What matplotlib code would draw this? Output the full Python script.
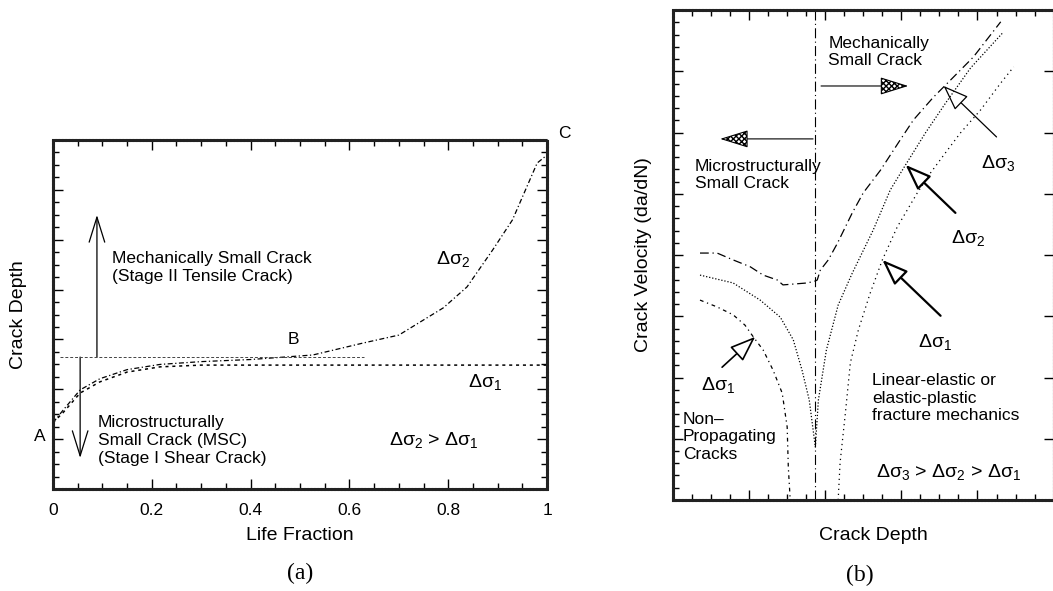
import numpy as np
import matplotlib
matplotlib.use("Agg")
import matplotlib.pyplot as plt
from matplotlib.patches import FancyArrowPatch
from matplotlib.ticker import MultipleLocator, FixedLocator, NullFormatter

plt.rcParams['font.family'] = ['Liberation Sans', 'DejaVu Sans']
plt.rcParams['mathtext.fontset'] = 'custom'
plt.rcParams['mathtext.rm'] = 'Liberation Sans'
plt.rcParams['mathtext.default'] = 'regular'

# ---- panel (a): crack depth vs life fraction (schematic, axes units 0..1)
life1 = [0, 0.02, 0.055, 0.095, 0.15, 0.217, 0.3, 0.5, 0.75, 1.0]
depth1 = [0.19, 0.218, 0.275, 0.307, 0.335, 0.35, 0.355, 0.355, 0.355, 0.355]

life2 = [0, 0.02, 0.055, 0.095, 0.15, 0.217, 0.3, 0.4, 0.526, 0.627, 0.70,
         0.79, 0.838, 0.89, 0.93, 0.98, 1.0]
depth2 = [0.19, 0.225, 0.284, 0.316, 0.342, 0.357, 0.365, 0.371, 0.384, 0.418,
          0.441, 0.519, 0.579, 0.685, 0.771, 0.934, 0.957]

transition_depth = 0.378
transition_span = [0.015, 0.63]

# ---- panel (b): crack velocity vs crack depth (schematic, axes units 0..1)
ds3_x = [0.071, 0.116, 0.158, 0.203, 0.237, 0.274, 0.289, 0.353, 0.374,
         0.379, 0.387, 0.408, 0.432, 0.471, 0.500, 0.545, 0.597, 0.632,
         0.684, 0.729, 0.789, 0.861]
ds3_y = [0.504, 0.504, 0.490, 0.476, 0.459, 0.449, 0.439, 0.443, 0.447,
         0.449, 0.469, 0.490, 0.524, 0.586, 0.627, 0.673, 0.735, 0.776,
         0.822, 0.857, 0.904, 0.976]

ds2_x = [0.071, 0.158, 0.229, 0.282, 0.316, 0.339, 0.358, 0.374,
         0.382, 0.403, 0.434, 0.471, 0.526, 0.571, 0.611, 0.663, 0.716,
         0.782, 0.868]
ds2_y = [0.459, 0.443, 0.408, 0.373, 0.327, 0.265, 0.204, 0.108,
         0.204, 0.306, 0.398, 0.463, 0.551, 0.633, 0.684, 0.749, 0.810,
         0.882, 0.955]

ds1_left_x = [0.071, 0.116, 0.158, 0.189, 0.211, 0.237, 0.263, 0.287,
              0.300, 0.303, 0.308]
ds1_left_y = [0.408, 0.394, 0.378, 0.357, 0.333, 0.306, 0.265, 0.218,
              0.149, 0.067, 0.0]

ds1_right_x = [0.434, 0.439, 0.453, 0.466, 0.487, 0.518, 0.550, 0.589,
               0.642, 0.676, 0.721, 0.755, 0.808, 0.861, 0.895]
ds1_right_y = [0.0, 0.076, 0.178, 0.280, 0.347, 0.422, 0.490, 0.557,
               0.627, 0.667, 0.714, 0.749, 0.796, 0.851, 0.884]

msc_boundary = 0.374

fig = plt.figure(figsize=(10.53, 5.91), dpi=100)
axa = fig.add_axes([0.0503, 0.1726, 0.4692, 0.5905])
axb = fig.add_axes([0.6391, 0.154, 0.3615, 0.829])


def style_box(ax):
    for sp in ax.spines.values():
        sp.set_linewidth(2.2)
        sp.set_linestyle((0, (0.6, 0.5)))
        sp.set_color('#222222')
    ax.tick_params(which='both', direction='in', top=True, right=True, width=1)
    ax.tick_params(which='major', length=7)
    ax.tick_params(which='minor', length=4)


def arrow(ax, tail, tip, style, lw=0.9, fc='black', hatch=None, ms=20):
    a = FancyArrowPatch(tail, tip, arrowstyle=style, mutation_scale=ms,
                        lw=lw, color='black', fc=fc, hatch=hatch,
                        shrinkA=0, shrinkB=0)
    ax.add_patch(a)


# ---------------- (a)
ax = axa
ax.set_xlim(0, 1)
ax.set_ylim(0, 1)
ax.plot(life1, depth1, color='black', lw=1.1, ls=(0, (2, 2.5)))
ax.plot(life2, depth2, color='black', lw=0.9, ls=(0, (4, 2, 1, 2)))
ax.plot(transition_span, [transition_depth, transition_depth], color='#444444',
        lw=0.7, ls=(0, (3, 2)))

arrow(ax, (0.089, transition_depth), (0.089, 0.785), '->,head_length=0.9,head_width=0.28', lw=0.9)
arrow(ax, (0.055, transition_depth), (0.055, 0.089), '->,head_length=0.9,head_width=0.28', lw=0.9)

ax.text(0.12, 0.636, "Mechanically Small Crack\n(Stage II Tensile Crack)",
        fontsize=12.5, va='center', ha='left', linespacing=1.25)
ax.text(0.091, 0.14, "Microstructurally\nSmall Crack (MSC)\n(Stage I Shear Crack)",
        fontsize=12.5, va='center', ha='left', linespacing=1.25)
ax.text(-0.027, 0.149, "A", fontsize=12.5, ha='center', va='center')
ax.text(0.486, 0.427, "B", fontsize=12.5, ha='center', va='center')
ax.text(1.036, 1.02, "C", fontsize=12.5, ha='center', va='center')
ax.text(0.81, 0.66, r"Δσ$_2$", fontsize=14, ha='center', va='center')
ax.text(0.875, 0.307, r"Δσ$_1$", fontsize=14, ha='center', va='center')
ax.text(0.77, 0.14, r"Δσ$_2$ > Δσ$_1$", fontsize=14, ha='center', va='center')

style_box(ax)
ax.set_xticks([0, 0.2, 0.4, 0.6, 0.8, 1.0])
ax.set_xticklabels(['0', '0.2', '0.4', '0.6', '0.8', '1'], fontsize=12.5)
ax.xaxis.set_minor_locator(MultipleLocator(0.05))
ax.yaxis.set_major_locator(FixedLocator(np.linspace(0, 1, 8)))
ax.yaxis.set_minor_locator(FixedLocator(np.linspace(0, 1, 29)))
ax.yaxis.set_major_formatter(NullFormatter())
ax.tick_params(axis='x', which='major', pad=10)
ax.set_xlabel("Life Fraction", fontsize=14)
ax.xaxis.set_label_coords(0.5, -0.11)
ax.set_ylabel("Crack Depth", fontsize=14)
ax.yaxis.set_label_coords(-0.052, 0.5)
fig.text(0.285, 0.03, "(a)", fontsize=17, family='Liberation Serif', ha='center', va='center')

# ---------------- (b)
ax = axb
ax.set_xlim(0, 1)
ax.set_ylim(0, 1)
ax.axvline(msc_boundary, color='black', lw=0.8, ls=(0, (9, 3, 1, 3)))
ax.plot(ds3_x, ds3_y, color='black', lw=0.9, ls=(0, (7, 3, 1, 3)))
ax.plot(ds2_x, ds2_y, color='black', lw=0.9, ls=(0, (1, 1.5)))
ax.plot(ds1_left_x, ds1_left_y, color='black', lw=0.9, ls=(0, (3, 3, 1, 3)))
ax.plot(ds1_right_x, ds1_right_y, color='black', lw=0.9, ls=(0, (1, 3)))

hatched = '-|>,head_length=0.9,head_width=0.28'
arrow(ax, (0.389, 0.845), (0.618, 0.845), hatched, lw=0.8, fc='white', hatch='xxxxxx')
arrow(ax, (0.368, 0.737), (0.124, 0.737), hatched, lw=0.8, fc='white', hatch='xxxxxx')

open_head = '-|>,head_length=0.8,head_width=0.3'
arrow(ax, (0.850, 0.741), (0.711, 0.845), open_head, lw=0.9, fc='white')
arrow(ax, (0.742, 0.586), (0.611, 0.684), open_head, lw=1.6, fc='white')
arrow(ax, (0.703, 0.376), (0.550, 0.490), open_head, lw=1.6, fc='white')
arrow(ax, (0.129, 0.271), (0.216, 0.333), open_head, lw=1.2, fc='white')

ax.text(0.408, 0.914, "Mechanically\nSmall Crack", fontsize=12.5, ha='left',
        va='center', linespacing=1.2)
ax.text(0.058, 0.663, "Microstructurally\nSmall Crack", fontsize=12.5, ha='left',
        va='center', linespacing=1.2)
ax.text(0.855, 0.688, r"Δσ$_3$", fontsize=14, ha='center', va='center')
ax.text(0.774, 0.535, r"Δσ$_2$", fontsize=14, ha='center', va='center')
ax.text(0.689, 0.322, r"Δσ$_1$", fontsize=14, ha='center', va='center')
ax.text(0.118, 0.235, r"Δσ$_1$", fontsize=14, ha='center', va='center')
ax.text(0.524, 0.208, "Linear-elastic or\nelastic-plastic\nfracture mechanics",
        fontsize=12.5, ha='left', va='center', linespacing=1.2)
ax.text(0.026, 0.129, "Non–\nPropagating\nCracks", fontsize=12.5, ha='left',
        va='center', linespacing=1.2)
ax.text(0.724, 0.057, r"Δσ$_3$ > Δσ$_2$ > Δσ$_1$", fontsize=14, ha='center',
        va='center')

style_box(ax)
ax.xaxis.set_major_locator(MultipleLocator(0.2))
ax.xaxis.set_minor_locator(MultipleLocator(0.05))
ax.yaxis.set_major_locator(MultipleLocator(0.125))
ax.yaxis.set_minor_locator(MultipleLocator(0.025))
ax.tick_params(axis='y', which='minor', right=False)
ax.xaxis.set_major_formatter(NullFormatter())
ax.yaxis.set_major_formatter(NullFormatter())
ax.set_xlabel("Crack Depth", fontsize=14)
ax.xaxis.set_label_coords(0.526, -0.055)
ax.set_ylabel("Crack Velocity (da/dN)", fontsize=14)
ax.yaxis.set_label_coords(-0.055, 0.5)
fig.text(0.817, 0.027, "(b)", fontsize=17, family='Liberation Serif', ha='center', va='center')

fig.savefig("out.png", dpi=100)
